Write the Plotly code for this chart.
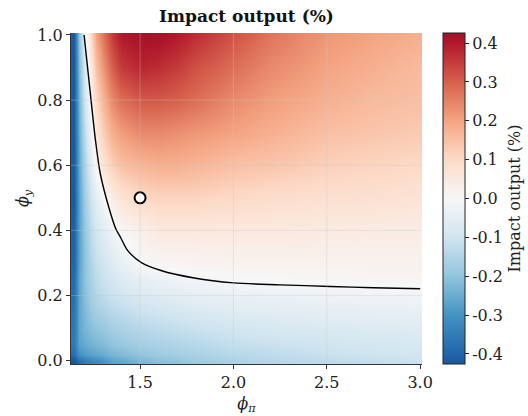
import plotly.graph_objects as go

# ---- data ----
phi_pi = [1.145, 1.175, 1.205, 1.235, 1.265, 1.30, 1.35, 1.40, 1.50, 1.60, 1.70, 1.80, 2.00, 2.20, 2.50, 2.75, 3.00]
phi_y = [0.0, 0.02, 0.05, 0.10, 0.15, 0.20, 0.25, 0.30, 0.40, 0.50, 0.60, 0.70, 0.80, 0.90, 1.00]

impact_y000 = [-0.43, -0.38, -0.35, -0.33, -0.32, -0.30, -0.27, -0.26, -0.23, -0.21, -0.20, -0.18, -0.16, -0.14, -0.13, -0.12, -0.11]
impact_y002 = [-0.38, -0.30, -0.28, -0.27, -0.26, -0.25, -0.23, -0.22, -0.20, -0.18, -0.17, -0.16, -0.14, -0.13, -0.11, -0.10, -0.095]
impact_y005 = [-0.36, -0.27, -0.25, -0.24, -0.23, -0.22, -0.20, -0.19, -0.17, -0.16, -0.15, -0.14, -0.12, -0.11, -0.10, -0.09, -0.085]
impact_y010 = [-0.36, -0.26, -0.23, -0.21, -0.20, -0.19, -0.17, -0.16, -0.14, -0.13, -0.12, -0.11, -0.095, -0.085, -0.075, -0.07, -0.065]
impact_y015 = [-0.37, -0.26, -0.22, -0.19, -0.17, -0.16, -0.14, -0.13, -0.11, -0.10, -0.09, -0.08, -0.065, -0.06, -0.05, -0.045, -0.04]
impact_y020 = [-0.38, -0.26, -0.21, -0.17, -0.15, -0.13, -0.11, -0.10, -0.08, -0.065, -0.055, -0.045, -0.035, -0.03, -0.025, -0.02, -0.02]
impact_y025 = [-0.39, -0.26, -0.20, -0.16, -0.13, -0.11, -0.09, -0.07, -0.045, -0.03, -0.02, -0.015, -0.005, 0.0, 0.005, 0.01, 0.01]
impact_y030 = [-0.40, -0.27, -0.20, -0.15, -0.12, -0.10, -0.07, -0.04, 0.0, 0.01, 0.012, 0.015, 0.02, 0.02, 0.02, 0.02, 0.02]
impact_y040 = [-0.41, -0.27, -0.19, -0.13, -0.09, -0.06, -0.02, 0.005, 0.03, 0.05, 0.05, 0.05, 0.05, 0.05, 0.045, 0.04, 0.04]
impact_y050 = [-0.42, -0.27, -0.17, -0.10, -0.05, -0.01, 0.04, 0.07, 0.10, 0.11, 0.11, 0.11, 0.10, 0.09, 0.08, 0.08, 0.07]
impact_y060 = [-0.42, -0.26, -0.15, -0.06, 0.01, 0.07, 0.12, 0.15, 0.17, 0.18, 0.18, 0.17, 0.15, 0.14, 0.12, 0.11, 0.10]
impact_y070 = [-0.42, -0.25, -0.12, -0.02, 0.06, 0.12, 0.18, 0.21, 0.24, 0.24, 0.23, 0.22, 0.20, 0.18, 0.15, 0.14, 0.13]
impact_y080 = [-0.42, -0.24, -0.09, 0.02, 0.10, 0.17, 0.24, 0.28, 0.31, 0.31, 0.30, 0.28, 0.24, 0.21, 0.18, 0.16, 0.15]
impact_y090 = [-0.42, -0.22, -0.07, 0.05, 0.15, 0.22, 0.30, 0.35, 0.38, 0.37, 0.35, 0.32, 0.28, 0.24, 0.20, 0.18, 0.16]
impact_y100 = [-0.42, -0.20, -0.03, 0.10, 0.20, 0.27, 0.35, 0.40, 0.42, 0.42, 0.40, 0.37, 0.32, 0.27, 0.22, 0.20, 0.18]

impact = [impact_y000, impact_y002, impact_y005, impact_y010, impact_y015, impact_y020,
          impact_y025, impact_y030, impact_y040, impact_y050, impact_y060, impact_y070,
          impact_y080, impact_y090, impact_y100]

# zero-impact boundary curve
boundary_phi_pi = [1.20, 1.23, 1.261, 1.287, 1.332, 1.37, 1.395, 1.434, 1.505, 1.612, 1.79, 2.0, 2.25, 2.52, 2.75, 3.0]
boundary_phi_y = [1.0, 0.84, 0.677, 0.574, 0.472, 0.405, 0.379, 0.338, 0.302, 0.277, 0.254, 0.239, 0.233, 0.228, 0.224, 0.221]

# baseline calibration point
base_phi_pi = [1.5]
base_phi_y = [0.5]

z_min, z_max = -0.426, 0.426
cbar_ticks = [-0.4, -0.3, -0.2, -0.1, 0.0, 0.1, 0.2, 0.3, 0.4]
cbar_labels = ["-0.4", "-0.3", "-0.2", "-0.1", "0.0", "0.1", "0.2", "0.3", "0.4"]
x_ticks = [1.5, 2.0, 2.5, 3.0]
x_labels = ["1.5", "2.0", "2.5", "3.0"]
y_ticks = [0.0, 0.2, 0.4, 0.6, 0.8, 1.0]
y_labels = ["0.0", "0.2", "0.4", "0.6", "0.8", "1.0"]

# ColorBrewer RdBu (reversed); the colour at value v is the map's colour at 0.5 + v
rdbu_r = [(5, 48, 97), (33, 102, 172), (67, 147, 195), (146, 197, 222), (209, 229, 240),
          (247, 247, 247), (253, 219, 199), (244, 165, 130), (214, 96, 77), (178, 24, 43), (103, 0, 31)]


def rdbu_at(p):
    p = min(max(p, 0.0), 1.0) * 10
    i = min(int(p), 9)
    f = p - i
    a, b = rdbu_r[i], rdbu_r[i + 1]
    return "rgb(%d,%d,%d)" % tuple(round(a[k] + (b[k] - a[k]) * f) for k in range(3))


colorscale = []
n_stops = 40
for k in range(n_stops + 1):
    t = k / n_stops
    v = z_min + t * (z_max - z_min)
    colorscale.append([t, rdbu_at(0.5 + v)])

serif = "DejaVu Serif"

fig = go.Figure()
fig.add_trace(go.Heatmap(
    x=phi_pi, y=phi_y, z=impact,
    zmin=z_min, zmax=z_max, zsmooth="best",
    colorscale=colorscale,
    colorbar=dict(
        x=1.06, xanchor="left", y=0.5, yanchor="middle",
        len=1.0, lenmode="fraction", thickness=22, xpad=0, ypad=0,
        outlinecolor="#222", outlinewidth=1,
        tickvals=cbar_ticks, ticktext=cbar_labels,
        ticks="outside", ticklen=4, tickcolor="#222",
        tickfont=dict(family=serif, size=16, color="#222"),
        title=dict(text="Impact output (%)", side="right",
                   font=dict(family=serif, size=16, color="#222")),
    ),
    hoverinfo="skip",
))

fig.add_trace(go.Scatter(
    x=boundary_phi_pi, y=boundary_phi_y, mode="lines",
    line=dict(color="black", width=1.4, shape="spline", smoothing=0.8),
    showlegend=False, hoverinfo="skip",
))

fig.add_trace(go.Scatter(
    x=base_phi_pi, y=base_phi_y, mode="markers",
    marker=dict(size=11, color="white", line=dict(color="black", width=2)),
    showlegend=False, hoverinfo="skip",
))

# faint grid lines drawn above the image, as in the reference
for xv in x_ticks[:-1]:
    fig.add_shape(type="line", xref="x", yref="paper", x0=xv, x1=xv, y0=0, y1=1,
                  line=dict(color="rgba(200,200,200,0.35)", width=1), layer="above")
for yv in y_ticks[1:-1]:
    fig.add_shape(type="line", xref="paper", yref="y", x0=0, x1=1, y0=yv, y1=yv,
                  line=dict(color="rgba(200,200,200,0.35)", width=1), layer="above")

fig.update_layout(
    width=528, height=416,
    margin=dict(l=71, r=106, t=33, b=52, autoexpand=False),
    paper_bgcolor="white", plot_bgcolor="white",
    title=dict(text="<b>Impact output (%)</b>", x=(71 + 422) / 2 / 528, xanchor="center",
               y=1 - 16 / 416, yanchor="middle",
               font=dict(family=serif, size=17, color="#111")),
    xaxis=dict(
        range=[1.13, 3.01], tickvals=x_ticks, ticktext=x_labels,
        ticks="outside", ticklen=4, tickcolor="#333",
        showline=True, linecolor="#333", linewidth=1, mirror=False,
        showgrid=False, zeroline=False,
        tickfont=dict(family=serif, size=16, color="#222"),
        title=dict(text="<i>ϕ</i><sub><i>π</i></sub>", standoff=6,
                   font=dict(family=serif, size=16, color="#222")),
    ),
    yaxis=dict(
        range=[-0.01, 1.006], tickvals=y_ticks, ticktext=y_labels,
        ticks="outside", ticklen=4, tickcolor="#333",
        showline=True, linecolor="#333", linewidth=1, mirror=False,
        showgrid=False, zeroline=False,
        tickfont=dict(family=serif, size=16, color="#222"),
        title=dict(text="<i>ϕ</i><sub><i>y</i></sub>", standoff=4,
                   font=dict(family=serif, size=16, color="#222")),
    ),
    showlegend=False,
)

fig.write_html("out.html", config={"displayModeBar": False},
               post_script="document.body.style.margin='0px';")
